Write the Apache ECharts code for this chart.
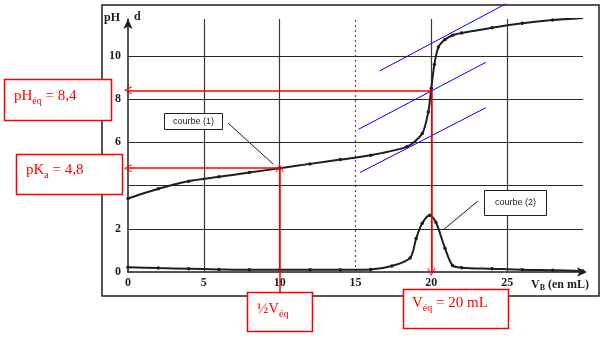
<!DOCTYPE html>
<html><head><meta charset="utf-8">
<script src="https://cdn.jsdelivr.net/npm/echarts@6/dist/echarts.min.js"></script>
<style>html,body{margin:0;padding:0;background:#fff}#c{width:610px;height:341px}</style>
</head><body><div id="c"></div>
<script>
// Curve (1): pH = f(VB)
const volumeCurve1 = [0, 2, 4, 6, 8, 10, 12, 14, 16, 18.4, 19.4, 19.8, 20, 20.2, 20.47, 20.9, 21.4, 22, 24, 26, 28, 30];
const pHCurve1     = [3.4, 3.85, 4.2, 4.4, 4.6, 4.8, 5.0, 5.2, 5.4, 5.8, 6.4, 7.4, 8.5, 9.6, 10.4, 10.75, 10.95, 11.05, 11.3, 11.5, 11.65, 11.75];
// Curve (2): derivative d = dpH/dV
const volumeCurve2 = [0, 2, 4, 6, 8, 10, 12, 14, 16, 17.4, 18.6, 19.0, 19.4, 19.9, 20.3, 20.9, 21.4, 22, 24, 26, 28, 30];
const dCurve2      = [0.22, 0.18, 0.15, 0.12, 0.1, 0.1, 0.1, 0.1, 0.12, 0.28, 0.65, 1.55, 2.25, 2.62, 2.3, 1.1, 0.3, 0.2, 0.15, 0.1, 0.08, 0.05];
// Axis ticks
const xTickValues = [0, 5, 10, 15, 20, 25];
const xTickLabels = ['0', '5', '10', '15', '20', '25'];
const yTickValues = [0, 2, 4, 6, 8, 10];
const yTickLabels = ['0', '2', '4', '6', '8', '10'];
const gridVolumes = [5, 10, 15, 20, 25];
const gridPH = [2, 4, 6, 8, 10];
// Characteristic values
const vEq = 20, halfVEq = 10, pHEq = 8.4, pKa = 4.8;
// Parallel tangents (data coordinates)
const tangentStarts = [[16.6, 9.3], [15.2, 6.6], [15.3, 4.6]];
const tangentEnds   = [[24.9, 12.4], [23.6, 9.7], [23.6, 7.6]];

const chart = echarts.init(document.getElementById('c'), null, {renderer: 'canvas'});
const INK = '#1e1e1e';
const RED = '#ff0000';
const serif = '"Liberation Serif", "DejaVu Serif", serif';
const chevron = 'path://M0,0 L5,9 L4,9.6 L0,2.2 L-4,9.6 L-5,9 Z';

const curve1 = volumeCurve1.map((v, i) => [v, pHCurve1[i]]);
const curve2 = volumeCurve2.map((v, i) => [v, dCurve2[i]]);

const gridMarks = gridVolumes.map(v => ({xAxis: v, lineStyle: {type: v === 15 ? [2, 3] : 'solid', color: v === 15 ? '#555' : '#3a3a3a'}}))
  .concat(gridPH.map(p => ({yAxis: p, lineStyle: {type: 'solid', color: '#2a2a2a'}})));

const redArrows = [
  {coords: [[vEq, pHEq], [0, pHEq]]},
  {coords: [[halfVEq, pKa], [0, pKa]]},
  {coords: [[vEq, pHEq], [vEq, 0]]},
  {coords: [[halfVEq, -0.93], [halfVEq, pKa]]}
];

const option = {
  animation: false,
  backgroundColor: '#fff',
  grid: {left: 128, right: 27, top: 19, bottom: 69},
  xAxis: {
    type: 'value', min: 0, max: 30, interval: 5,
    axisLine: {show: true, lineStyle: {color: INK, width: 1.5}, symbol: ['none', 'arrow'], symbolSize: [7, 10], symbolOffset: [0, 4]},
    axisTick: {show: false},
    splitLine: {show: false},
    axisLabel: {
      margin: 5, color: INK, fontFamily: serif, fontWeight: 'bold', fontSize: 12,
      formatter: v => { const i = xTickValues.indexOf(v); return i >= 0 ? xTickLabels[i] : ''; }
    }
  },
  yAxis: {
    type: 'value', min: 0, max: 11.7, interval: 2,
    axisLine: {show: true, lineStyle: {color: INK, width: 1.5}, symbol: ['none', 'arrow'], symbolSize: [7, 10]},
    axisTick: {show: false},
    splitLine: {show: false},
    axisLabel: {
      margin: 7, color: INK, fontFamily: serif, fontWeight: 'bold', fontSize: 12,
      formatter: v => { const i = yTickValues.indexOf(v); return i >= 0 ? yTickLabels[i] : ''; }
    }
  },
  series: [
    {
      type: 'line', data: [], silent: true, z: 1,
      markLine: {silent: true, symbol: 'none', label: {show: false}, lineStyle: {width: 1.2}, data: gridMarks}
    },
    {
      type: 'line', data: curve1, smooth: 0.25, z: 5,
      lineStyle: {color: INK, width: 2}, itemStyle: {color: INK},
      symbol: 'circle', symbolSize: 3.5, showSymbol: true
    },
    {
      type: 'line', data: curve2, smooth: 0.3, z: 5,
      lineStyle: {color: INK, width: 2}, itemStyle: {color: INK},
      symbol: 'circle', symbolSize: 3.5, showSymbol: true
    },
    {
      type: 'lines', coordinateSystem: 'cartesian2d', clip: false, z: 6, silent: true,
      lineStyle: {color: '#0000ff', width: 1, opacity: 1},
      data: tangentStarts.map((s, i) => ({coords: [s, tangentEnds[i]]}))
    },
    {
      type: 'lines', coordinateSystem: 'cartesian2d', clip: false, z: 7, silent: true,
      symbol: ['none', chevron], symbolSize: [8, 8],
      lineStyle: {color: RED, width: 1.5, opacity: 1},
      data: redArrows
    }
  ],
  graphic: [
    // outer frame
    {type: 'rect', z: 0, shape: {x: 102, y: 5, width: 497, height: 291}, style: {fill: 'none', stroke: INK, lineWidth: 1.5}},
    // axis titles
    {type: 'text', z: 10, x: 104, y: 12, style: {text: 'pH', font: 'bold 12px ' + serif, fill: INK}},
    {type: 'text', z: 10, x: 134, y: 11, style: {text: 'd', font: 'bold 12px ' + serif, fill: INK}},
    {type: 'text', z: 10, x: 531, y: 277, style: {
      text: '{m|V}{s|B}{m| (en mL)}',
      rich: {m: {fontFamily: serif, fontWeight: 'bold', fontSize: 12, lineHeight: 15, fill: INK},
             s: {fontFamily: serif, fontWeight: 'bold', fontSize: 8, lineHeight: 8, verticalAlign: 'bottom', fill: INK}}}},
    // courbe labels
    {type: 'rect', z: 10, shape: {x: 164.5, y: 113.5, width: 58, height: 16}, style: {fill: '#fff', stroke: INK, lineWidth: 1}},
    {type: 'text', z: 11, x: 193.5, y: 121.5, style: {text: 'courbe (1)', font: '9px "Liberation Sans", Arial, sans-serif', fill: INK, align: 'center', verticalAlign: 'middle'}},
    {type: 'line', z: 10, shape: {x1: 228, y1: 123, x2: 273, y2: 164}, style: {stroke: INK, lineWidth: 1}},
    {type: 'rect', z: 10, shape: {x: 484.5, y: 190.5, width: 62, height: 25}, style: {fill: '#fff', stroke: INK, lineWidth: 1}},
    {type: 'text', z: 11, x: 515.5, y: 203, style: {text: 'courbe (2)', font: '9px "Liberation Sans", Arial, sans-serif', fill: INK, align: 'center', verticalAlign: 'middle'}},
    {type: 'line', z: 10, shape: {x1: 478, y1: 201, x2: 443, y2: 230}, style: {stroke: INK, lineWidth: 1}},
    // red annotation boxes
    {type: 'rect', z: 20, shape: {x: 4.5, y: 79.5, width: 107, height: 41}, style: {fill: '#fff', stroke: RED, lineWidth: 1.5}},
    {type: 'text', z: 21, x: 14, y: 86, style: {
      text: '{m|pH}{s|éq}{m| = 8,4}',
      rich: {m: {fontFamily: serif, fontSize: 15, lineHeight: 20, fill: RED},
             s: {fontFamily: serif, fontSize: 10, lineHeight: 10, verticalAlign: 'bottom', fill: RED}}}},
    {type: 'rect', z: 20, shape: {x: 16.5, y: 154.5, width: 106, height: 40}, style: {fill: '#fff', stroke: RED, lineWidth: 1.5}},
    {type: 'text', z: 21, x: 26, y: 160, style: {
      text: '{m|pK}{s|a}{m| = 4,8}',
      rich: {m: {fontFamily: serif, fontSize: 15, lineHeight: 20, fill: RED},
             s: {fontFamily: serif, fontSize: 10, lineHeight: 10, verticalAlign: 'bottom', fill: RED}}}},
    {type: 'rect', z: 20, shape: {x: 247.5, y: 292.5, width: 65, height: 39}, style: {fill: '#fff', stroke: RED, lineWidth: 1.5}},
    {type: 'text', z: 21, x: 257, y: 299, style: {
      text: '{m|½V}{s|éq}',
      rich: {m: {fontFamily: serif, fontSize: 15, lineHeight: 20, fill: RED},
             s: {fontFamily: serif, fontSize: 10, lineHeight: 10, verticalAlign: 'bottom', fill: RED}}}},
    {type: 'rect', z: 20, shape: {x: 403.5, y: 289.5, width: 105, height: 39}, style: {fill: '#fff', stroke: RED, lineWidth: 1.5}},
    {type: 'text', z: 21, x: 412, y: 293, style: {
      text: '{m|V}{s|éq}{m| = 20 mL}',
      rich: {m: {fontFamily: serif, fontSize: 15, lineHeight: 20, fill: RED},
             s: {fontFamily: serif, fontSize: 10, lineHeight: 10, verticalAlign: 'bottom', fill: RED}}}}
  ]
};
chart.setOption(option);
</script>
</body></html>
